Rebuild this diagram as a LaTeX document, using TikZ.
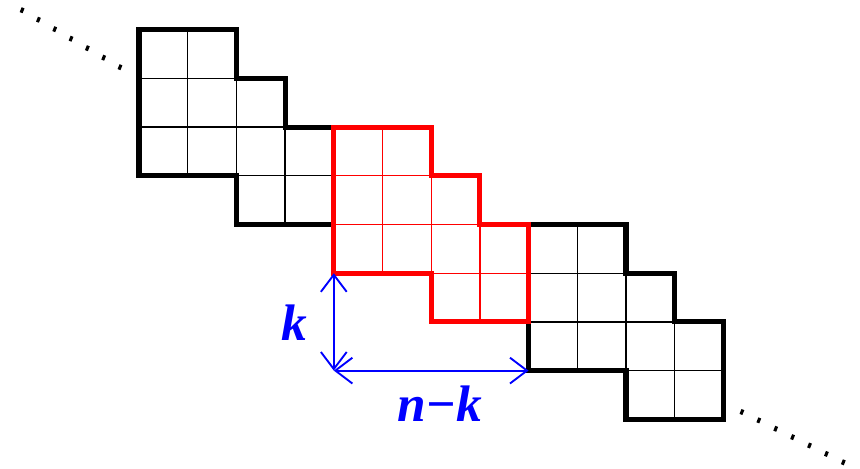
\documentclass[tikz,border=0pt]{standalone}
\usepackage{fontspec}
\setmainfont{Liberation Serif}
\usetikzlibrary{arrows.meta}

\tikzset{
    cellline/.style={line width=0.8pt},
    outline/.style={line width=3pt, line join=miter},
    measure/.style={blue, line width=1.1pt,
        {Straight Barb[length=3.5mm, width=5.3mm]}-{Straight Barb[length=3.5mm, width=5.3mm]}},
    dimlabel/.style={blue, font=\fontsize{30}{34}\selectfont\bfseries\itshape},
    dotmark/.style={line width=1.8pt}
}

\begin{document}
\begin{tikzpicture}
    \useasboundingbox (-2.854,0) rectangle (14.805,9.610);

    % three staircase blocks, the red one drawn last
    \foreach \s/\col in {0/black, 2/black, 1/red} {
        \begin{scope}[shift={(4*\s,-2*\s)}, color=\col]
            \foreach \x/\y in {0/8,1/8,0/7,1/7,2/7,0/6,1/6,2/6,3/6,2/5,3/5} {
                \draw[cellline] (\x,\y) rectangle ++(1,1);
            }
            \draw[outline] (0,9) -| (2,8) -| (3,7) -| (4,5) -| (2,6) -- (0,6) -- cycle;
        \end{scope}
    }

    % dots at both ends
    \foreach \i in {0,...,6} {
        \draw[dotmark] (-2.40+0.335*\i, 9.40-0.195*\i) ++(-0.02,-0.05) -- ++(0.04,0.10);
        \draw[dotmark] (12.38+0.347*\i, 1.15-0.172*\i) ++(-0.02,-0.05) -- ++(0.04,0.10);
    }

    % dimensions
    \coordinate (top) at (4,4);
    \coordinate (corner) at (4,2);
    \coordinate (right) at (8,2);
    \draw[measure] (top) -- (corner);
    \draw[measure] (corner) -- (right);
    \node[dimlabel] (klabel) at (3.20,2.98) {k};
    \node[dimlabel] (nklabel) at (6.18,1.33) {n−k};

\end{tikzpicture}
\end{document}
